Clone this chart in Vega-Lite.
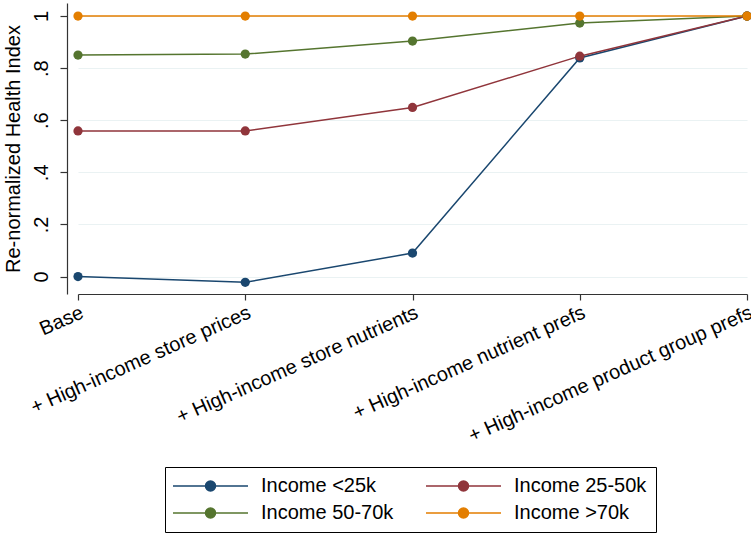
{
  "$schema": "https://vega.github.io/schema/vega-lite/v6.json",
  "width": 684,
  "height": 291,
  "autosize": "none",
  "padding": {"left": 67, "top": 3, "right": 0, "bottom": 240},
  "background": "white",
  "config": {
    "view": {"stroke": null},
    "font": "Liberation Sans",
    "axis": {
      "labelFont": "Liberation Sans",
      "titleFont": "Liberation Sans",
      "labelFontSize": 20,
      "titleFontSize": 20,
      "titleFontWeight": "normal",
      "labelColor": "black",
      "titleColor": "black",
      "domainColor": "#333333",
      "tickColor": "#333333",
      "domainWidth": 1.2,
      "tickWidth": 1.2
    },
    "legend": {
      "labelFont": "Liberation Sans",
      "labelFontSize": 20,
      "labelColor": "black"
    }
  },
  "data": {
    "values": [
      {"step": "Base", "group": "Income <25k", "value": 0.0},
      {"step": "+ High-income store prices", "group": "Income <25k", "value": -0.022},
      {"step": "+ High-income store nutrients", "group": "Income <25k", "value": 0.09},
      {"step": "+ High-income nutrient prefs", "group": "Income <25k", "value": 0.839},
      {"step": "+ High-income product group prefs", "group": "Income <25k", "value": 1.0},
      {"step": "Base", "group": "Income 25-50k", "value": 0.559},
      {"step": "+ High-income store prices", "group": "Income 25-50k", "value": 0.559},
      {"step": "+ High-income store nutrients", "group": "Income 25-50k", "value": 0.649},
      {"step": "+ High-income nutrient prefs", "group": "Income 25-50k", "value": 0.846},
      {"step": "+ High-income product group prefs", "group": "Income 25-50k", "value": 1.0},
      {"step": "Base", "group": "Income 50-70k", "value": 0.85},
      {"step": "+ High-income store prices", "group": "Income 50-70k", "value": 0.854},
      {"step": "+ High-income store nutrients", "group": "Income 50-70k", "value": 0.904},
      {"step": "+ High-income nutrient prefs", "group": "Income 50-70k", "value": 0.973},
      {"step": "+ High-income product group prefs", "group": "Income 50-70k", "value": 1.0},
      {"step": "Base", "group": "Income >70k", "value": 1.0},
      {"step": "+ High-income store prices", "group": "Income >70k", "value": 1.0},
      {"step": "+ High-income store nutrients", "group": "Income >70k", "value": 1.0},
      {"step": "+ High-income nutrient prefs", "group": "Income >70k", "value": 1.0},
      {"step": "+ High-income product group prefs", "group": "Income >70k", "value": 1.0}
    ]
  },
  "encoding": {
    "x": {
      "field": "step",
      "type": "ordinal",
      "sort": null,
      "scale": {"type": "point", "range": [11, 680], "padding": 0},
      "axis": {
        "title": null,
        "labelAngle": -24,
        "labelAlign": "right",
        "labelBaseline": "top",
        "labelPadding": 2,
        "labelLimit": 500,
        "labelOverlap": false,
        "tickSize": 6,
        "grid": false
      }
    },
    "y": {
      "field": "value",
      "type": "quantitative",
      "scale": {"domain": [-0.067, 1.05], "nice": false, "zero": false},
      "axis": {
        "title": "Re-normalized Health Index",
        "values": [0, 0.2, 0.4, 0.6, 0.8, 1],
        "labelExpr": "datum.value == 0 ? '0' : datum.value == 1 ? '1' : replace(format(datum.value, '.1f'), '0.', '.')",
        "labelAngle": -90,
        "labelAlign": "center",
        "labelBaseline": "bottom",
        "labelPadding": 9,
        "tickSize": 7,
        "titlePadding": 8,
        "grid": true,
        "gridColor": "#eaf2f3",
        "gridWidth": 1.2
      }
    },
    "color": {
      "field": "group",
      "type": "nominal",
      "scale": {
        "domain": ["Income <25k", "Income 25-50k", "Income 50-70k", "Income >70k"],
        "range": ["#1a476f", "#90353b", "#55752f", "#e37e00"]
      },
      "legend": {
        "title": null,
        "orient": "none",
        "legendX": 98,
        "legendY": 464,
        "columns": 2,
        "direction": "horizontal",
        "strokeColor": "black",
        "fillColor": "white",
        "padding": 9,
        "columnPadding": 29,
        "rowPadding": 7,
        "symbolType": "M-2.2,0L12.8,0M4.3,0A1,1,0,1,1,6.3,0A1,1,0,1,1,4.3,0Z",
        "symbolSize": 100,
        "symbolStrokeWidth": 1.5,
        "labelOffset": 67,
        "labelLimit": 300,
        "encode": {
          "symbols": {
            "update": {
              "fill": {"scale": "color", "field": "value"},
              "stroke": {"scale": "color", "field": "value"},
              "opacity": {"value": 1}
            }
          }
        }
      }
    }
  },
  "layer": [
    {"mark": {"type": "line", "strokeWidth": 1.5}},
    {"mark": {"type": "point", "filled": true, "size": 85, "opacity": 1}}
  ]
}
